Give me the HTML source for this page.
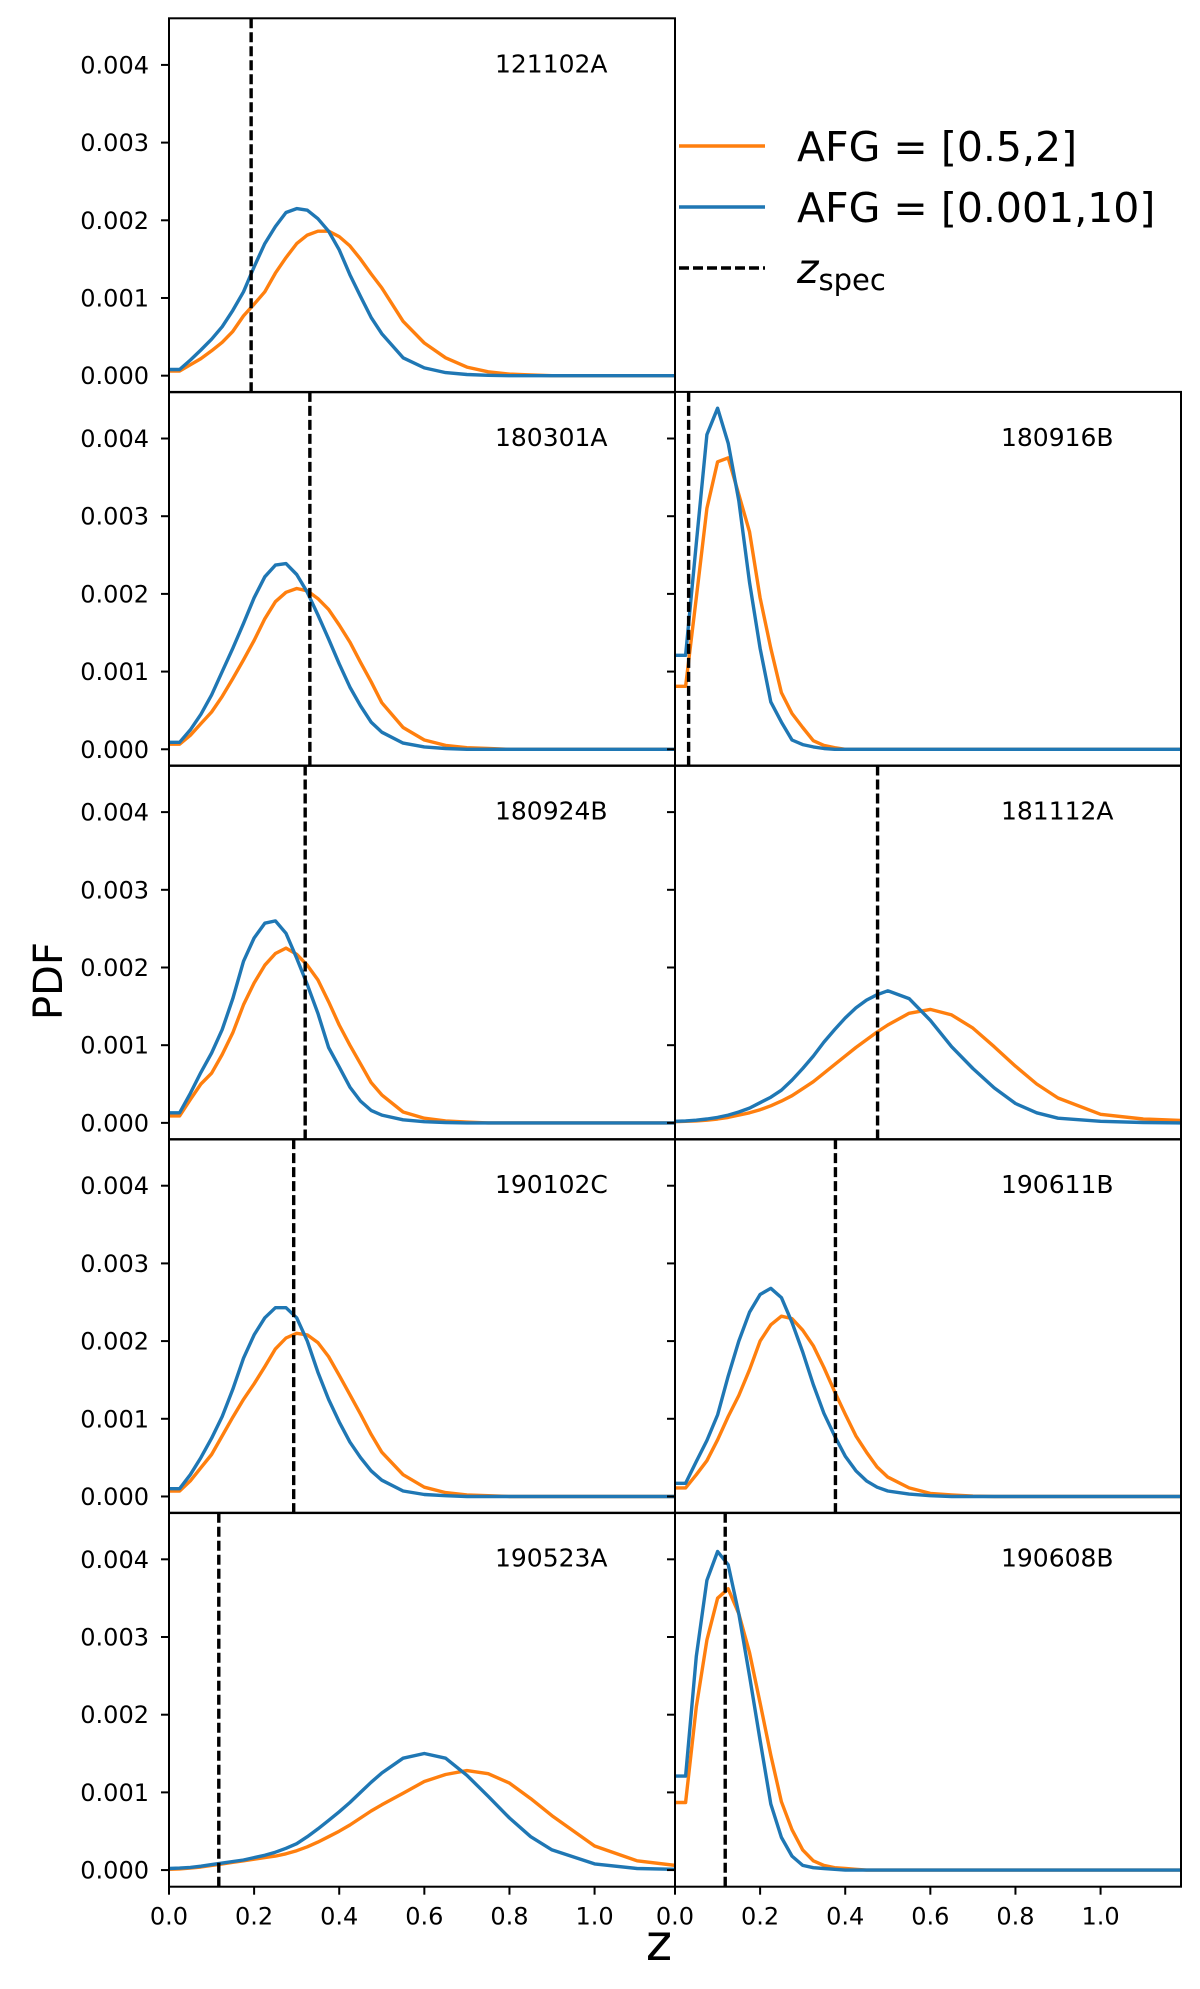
<!DOCTYPE html>
<html><head><meta charset="utf-8">
<style>
html,body{margin:0;padding:0;background:#fff;}
svg{display:block;font-family:"DejaVu Sans","Liberation Sans",sans-serif;}
</style></head>
<body>
<svg id="fig" width="1200" height="1989" viewBox="0 0 1200 1989" xmlns="http://www.w3.org/2000/svg">
  <g id="panels"></g>
  <text x="0" y="0" transform="translate(62,981) rotate(-90)" font-size="40" text-anchor="middle">PDF</text>
  <text x="659" y="1960" font-size="50" text-anchor="middle">z</text>
  <g>
    <line x1="679" y1="146" x2="765" y2="146" stroke="#ff7f0e" stroke-width="3.4"/>
    <text x="797" y="161" font-size="41">AFG = [0.5,2]</text>
    <line x1="679" y1="207" x2="765" y2="207" stroke="#1f77b4" stroke-width="3.4"/>
    <text x="797" y="222" font-size="41">AFG = [0.001,10]</text>
    <line x1="679" y1="268" x2="765" y2="268" stroke="#000" stroke-width="3.4" stroke-dasharray="10,4"/>
    <text x="797" y="283" font-size="41"><tspan font-style="italic">z</tspan><tspan font-size="29" dy="7">spec</tspan></text>
  </g>
</svg>
<script>
// ---- data (PDF values in units of 1e-3) ----
const zGrid = [0,0.025,0.05,0.075,0.1,0.125,0.15,0.175,0.2,0.225,0.25,0.275,0.3,0.325,0.35,0.375,0.4,0.425,0.45,0.475,0.5,0.55,0.6,0.65,0.7,0.75,0.8,0.85,0.9,1.0,1.1,1.19];
const panelNames = ["121102A","180301A","180916B","180924B","181112A","190102C","190611B","190523A","190608B"];
const panelCols = [0,0,1,0,1,0,1,0,1];
const panelRows = [0,1,1,2,2,3,3,4,4];
const zSpec = [0.193,0.331,0.032,0.32,0.476,0.293,0.377,0.117,0.118];
const orange121102A = [.06,.06,.14,.22,.32,.43,.57,.77,.92,1.08,1.32,1.52,1.7,1.81,1.86,1.86,1.79,1.67,1.5,1.31,1.13,.7,.42,.23,.11,.05,.02,.01,0,0,0,0];
const blue121102A = [.08,.08,.2,.33,.47,.63,.84,1.08,1.4,1.7,1.92,2.1,2.15,2.13,2.02,1.86,1.62,1.3,1.02,.75,.54,.23,.1,.04,.015,.005,0,0,0,0,0,0];
const orange180301A = [.065,.065,.18,.33,.48,.68,.91,1.15,1.4,1.68,1.9,2.02,2.07,2.04,1.94,1.8,1.6,1.38,1.12,.87,.6,.28,.12,.05,.02,.01,0,0,0,0,0,0];
const blue180301A = [.09,.09,.25,.45,.7,1.0,1.3,1.62,1.95,2.22,2.37,2.39,2.25,2.02,1.73,1.42,1.1,.8,.56,.35,.22,.08,.03,.01,0,0,0,0,0,0,0,0];
const orange180916B = [.81,.81,1.95,3.1,3.7,3.75,3.28,2.8,1.95,1.3,.73,.46,.28,.11,.05,.02,0,0,0,0,0,0,0,0,0,0,0,0,0,0,0,0];
const blue180916B = [1.21,1.21,2.65,4.05,4.39,3.94,3.2,2.15,1.3,.61,.35,.12,.06,.03,.01,0,0,0,0,0,0,0,0,0,0,0,0,0,0,0,0,0];
const orange180924B = [.09,.09,.3,.5,.64,.88,1.16,1.52,1.8,2.03,2.18,2.25,2.17,2.03,1.84,1.56,1.26,1.0,.76,.52,.36,.14,.06,.025,.01,0,0,0,0,0,0,0];
const blue180924B = [.13,.13,.38,.65,.9,1.2,1.6,2.08,2.38,2.57,2.6,2.44,2.12,1.78,1.41,.97,.72,.46,.28,.16,.1,.04,.015,.005,0,0,0,0,0,0,0,0];
const orange181112A = [.015,.02,.025,.035,.05,.07,.1,.13,.17,.22,.28,.35,.44,.53,.64,.75,.86,.97,1.07,1.17,1.26,1.41,1.46,1.39,1.22,.98,.73,.5,.32,.11,.05,.03];
const blue181112A = [.02,.025,.035,.05,.07,.1,.14,.19,.26,.33,.42,.55,.7,.86,1.04,1.2,1.35,1.48,1.58,1.65,1.7,1.6,1.32,.98,.7,.45,.25,.13,.06,.02,.005,0];
const orange190102C = [.07,.07,.2,.37,.54,.78,1.02,1.25,1.45,1.67,1.9,2.04,2.1,2.08,1.98,1.8,1.56,1.31,1.06,.8,.57,.28,.12,.05,.02,.01,0,0,0,0,0,0];
const blue190102C = [.1,.1,.28,.5,.75,1.03,1.38,1.78,2.08,2.3,2.43,2.43,2.3,2.0,1.6,1.25,.96,.7,.5,.33,.21,.07,.025,.01,0,0,0,0,0,0,0,0];
const orange190611B = [.11,.11,.28,.46,.73,1.03,1.3,1.63,2.0,2.21,2.32,2.29,2.14,1.94,1.66,1.35,1.06,.78,.57,.38,.25,.11,.04,.02,.005,0,0,0,0,0,0,0];
const blue190611B = [.17,.17,.45,.72,1.05,1.55,2.0,2.37,2.6,2.68,2.56,2.24,1.86,1.44,1.07,.78,.52,.33,.2,.12,.07,.03,.01,0,0,0,0,0,0,0,0,0];
const orange190523A = [.01,.015,.025,.04,.06,.08,.1,.12,.14,.16,.18,.21,.25,.3,.36,.43,.5,.58,.67,.76,.84,.99,1.14,1.23,1.28,1.24,1.12,.92,.7,.31,.12,.06];
const blue190523A = [.02,.025,.035,.05,.07,.09,.11,.13,.16,.19,.23,.28,.34,.43,.53,.64,.75,.87,1.0,1.13,1.25,1.44,1.5,1.44,1.22,.95,.67,.43,.26,.08,.02,.01];
const orange190608B = [.87,.87,2.1,2.96,3.5,3.62,3.3,2.8,2.15,1.48,.88,.52,.26,.12,.06,.03,.02,.01,0,0,0,0,0,0,0,0,0,0,0,0,0,0];
const blue190608B = [1.21,1.21,2.75,3.73,4.1,3.93,3.3,2.5,1.67,.85,.42,.18,.06,.03,.02,.01,0,0,0,0,0,0,0,0,0,0,0,0,0,0,0,0];
const orangeSeries = [orange121102A,orange180301A,orange180916B,orange180924B,orange181112A,orange190102C,orange190611B,orange190523A,orange190608B];
const blueSeries = [blue121102A,blue180301A,blue180916B,blue180924B,blue181112A,blue190102C,blue190611B,blue190523A,blue190608B];
const yTicks = [0,1,2,3,4];
const yTickLabels = ["0.000","0.001","0.002","0.003","0.004"];
const xTicks = [0,0.2,0.4,0.6,0.8,1.0];
const xTickLabels = ["0.0","0.2","0.4","0.6","0.8","1.0"];

// ---- layout ----
const NS = "http://www.w3.org/2000/svg";
const colLeft = [169, 675], panelW = 506, rowTop0 = 18.3, rowStep = 373.6, panelH = 374;
const xMin = 0, xMax = 1.189, yMin = -0.214, yMax = 4.6;
const root = document.getElementById('panels');
function mk(tag, attrs, parent){ const e=document.createElementNS(NS,tag); for(const k in attrs) e.setAttribute(k,attrs[k]); parent.appendChild(e); return e; }

panelNames.forEach((name,i)=>{
  const L = colLeft[panelCols[i]], T = rowTop0 + panelRows[i]*rowStep;
  const xs = z => L + (z - xMin)/(xMax - xMin)*panelW;
  const ys = v => T + (yMax - v)/(yMax - yMin)*panelH;
  const g = mk('g',{},root);
  
  
  const clipId = 'clip'+i;
  const cp = mk('clipPath',{id:clipId},g);
  mk('rect',{x:L,y:T,width:panelW,height:panelH},cp);
  const plot = mk('g',{'clip-path':'url(#'+clipId+')'},g);
  const series = [[orangeSeries[i],'#ff7f0e','orange'],[blueSeries[i],'#1f77b4','blue']];
  series.forEach(s=>{
    const pts = zGrid.map((z,k)=>xs(z).toFixed(1)+','+ys(s[0][k]).toFixed(1)).join(' ');
    const pl = mk('polyline',{points:pts,fill:'none',stroke:s[1],'stroke-width':3.4,'stroke-linejoin':'round'},plot);
    
    
  });
  const dl = mk('line',{x1:xs(zSpec[i]),x2:xs(zSpec[i]),y1:T,y2:T+panelH,stroke:'#000','stroke-width':3.4,'stroke-dasharray':'10,4'},plot);
  
  
  const fr = mk('rect',{x:L,y:T,width:panelW,height:panelH,fill:'none',stroke:'#000','stroke-width':2},g);
  
  
  const lbl = mk('text',{x:L+326,y:T+54,'font-size':25},g);
  lbl.textContent = name;
  
  
  yTicks.forEach((t,k)=>{
    const tk = mk('line',{x1:L-8,x2:L,y1:ys(t),y2:ys(t),stroke:'#000','stroke-width':2},g);
    
    
    if(panelCols[i]===0){
      const tl = mk('text',{x:L-20,y:ys(t)+8.5,'font-size':24,'text-anchor':'end'},g);
      tl.textContent = yTickLabels[k];
      
      
    }
  });
  if(panelRows[i]===4){
    xTicks.forEach((t,k)=>{
      const tk = mk('line',{x1:xs(t),x2:xs(t),y1:T+panelH,y2:T+panelH+8,stroke:'#000','stroke-width':2},g);
      
      
      const tl = mk('text',{x:xs(t),y:T+panelH+38,'font-size':24,'text-anchor':'middle'},g);
      tl.textContent = xTickLabels[k];
      
      
    });
  }
});
</script>
</body></html>
